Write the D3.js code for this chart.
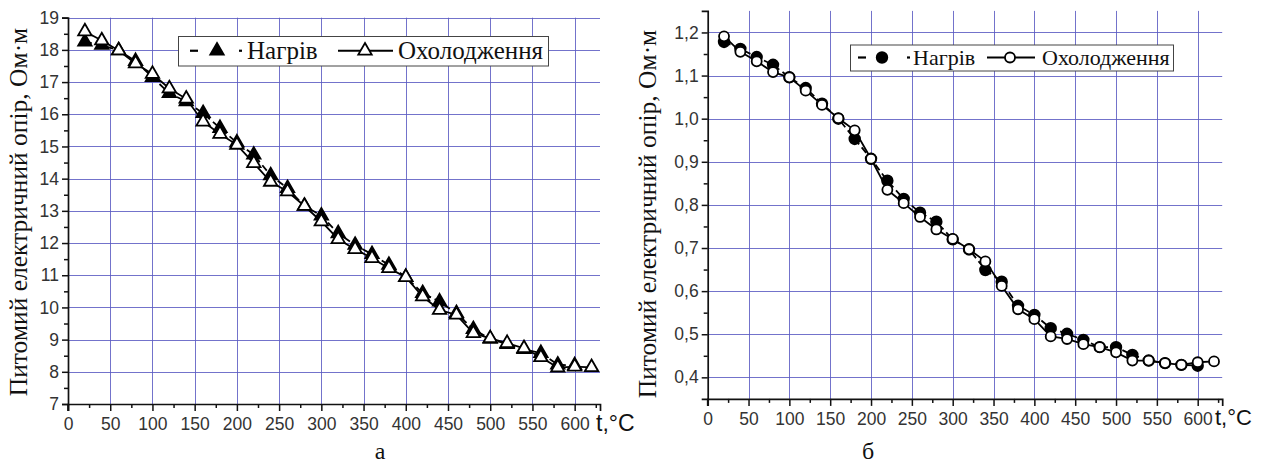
<!DOCTYPE html>
<html><head><meta charset="utf-8">
<script src="https://cdn.jsdelivr.net/npm/d3@7"></script>
<style>body{margin:0;background:#fff}svg{display:block}</style>
</head><body>
<svg id="c" width="1261" height="465"></svg>
<script>
// ---- data ----
const tempHeat = [20,40,60,80,100,120,140,160,180,200,220,240,260,280,300,320,340,360,380,400,420,440,460,480,500,520,540,560,580,600];
const tempCool = [20,40,60,80,100,120,140,160,180,200,220,240,260,280,300,320,340,360,380,400,420,440,460,480,500,520,540,560,580,600,620];
const rhoA_heat = [18.25,18.15,17.98,17.65,17.15,16.65,16.4,16.03,15.57,15.12,14.74,14.1,13.7,13.15,12.85,12.3,11.94,11.65,11.32,10.94,10.44,10.18,9.82,9.32,9.02,8.86,8.7,8.58,8.22,8.2];
const rhoA_cool = [18.57,18.29,17.98,17.58,17.25,16.8,16.48,15.77,15.39,15.05,14.48,13.9,13.6,13.15,12.67,12.12,11.81,11.53,11.22,10.94,10.34,9.92,9.77,9.2,9.04,8.89,8.73,8.45,8.13,8.16,8.14];
const rhoB_heat = [1.178,1.162,1.143,1.125,1.096,1.071,1.035,1.0,0.953,0.907,0.856,0.814,0.782,0.761,0.72,0.697,0.649,0.622,0.566,0.545,0.514,0.501,0.487,0.47,0.47,0.452,0.439,0.433,0.429,0.427];
const rhoB_cool = [1.191,1.155,1.133,1.108,1.096,1.065,1.032,1.001,0.973,0.907,0.835,0.804,0.772,0.743,0.721,0.697,0.669,0.612,0.558,0.535,0.495,0.489,0.477,0.470,0.458,0.439,0.439,0.433,0.429,0.435,0.437];
const xTicks = [0,50,100,150,200,250,300,350,400,450,500,550,600];
const yTicksA = [7,8,9,10,11,12,13,14,15,16,17,18,19];
const yTicksB = [0.4,0.5,0.6,0.7,0.8,0.9,1.0,1.1,1.2];
const seriesNames = ["Нагрів","Охолодження"];
const yTitle = "Питомий електричний опір, Ом·м";
const xTitle = "t,°C";
const panelLabels = ["а","б"];

const svg = d3.select("#c");
const GRID = "#5a5ac2";
const fmtB = v => d3.format(".1f")(v).replace(".", ",");
const px = v => Math.round(v) + 0.5;

function panel(cfg){
  const g = svg.append("g");
  const x = d3.scaleLinear().domain([0,630]).range(cfg.xr);
  const y = d3.scaleLinear().domain(cfg.yd).range(cfg.yr);
  // grid
  g.append("g").selectAll("line").data(xTicks.slice(1)).join("line")
    .attr("x1",d=>px(x(d))).attr("x2",d=>px(x(d))).attr("y1",cfg.yr[0]).attr("y2",cfg.yr[1])
    .attr("stroke",GRID).attr("stroke-opacity",0.85).attr("stroke-width",1);
  g.append("g").selectAll("line").data(cfg.yTicks.filter(d=>d>cfg.yd[0]+1e-9)).join("line")
    .attr("x1",cfg.xr[0]).attr("x2",cfg.xr[1]).attr("y1",d=>px(y(d))).attr("y2",d=>px(y(d)))
    .attr("stroke",GRID).attr("stroke-opacity",0.85).attr("stroke-width",1);
  // axes
  const ax = g.append("g").attr("transform",`translate(0,${cfg.yr[0]})`)
    .call(d3.axisBottom(x).tickValues(xTicks).tickSize(7).tickPadding(7));
  const axm = g.append("g").attr("transform",`translate(0,${cfg.yr[0]})`)
    .call(d3.axisBottom(x).tickValues(d3.range(25,630,50)).tickSize(4).tickFormat(""));
  const ay = g.append("g").attr("transform",`translate(${cfg.xr[0]},0)`)
    .call(d3.axisLeft(y).tickValues(cfg.yTicks).tickSize(6).tickPadding(3).tickFormat(cfg.fmt));
  const aym = g.append("g").attr("transform",`translate(${cfg.xr[0]},0)`)
    .call(d3.axisLeft(y).tickValues(cfg.yMinor).tickSize(4).tickFormat(""));
  [ax,axm,ay,aym].forEach(a=>{
    a.select(".domain").attr("stroke","#111").attr("stroke-width",1.7);
    a.selectAll(".tick line").attr("stroke","#111").attr("stroke-width",1.5);
    a.selectAll("text").attr("font-family","Liberation Sans, Arial, sans-serif").attr("font-size",17.5).attr("fill","#333");
  });
  axm.select(".domain").remove(); aym.select(".domain").remove();
  g.append("line").attr("x1",cfg.xr[0]).attr("x2",cfg.xr[0]).attr("y1",cfg.yr[0]).attr("y2",cfg.yr[0]+7).attr("stroke","#111").attr("stroke-width",1.7);

  const line = d3.line().x(d=>x(d[0])).y(d=>y(d[1]));
  const heat = tempHeat.map((t,i)=>[t,cfg.heat[i]]);
  const cool = tempCool.map((t,i)=>[t,cfg.cool[i]]);
  g.append("path").datum(heat).attr("d",line).attr("fill","none").attr("stroke","#000").attr("stroke-width",1.8).attr("stroke-dasharray","7,4");
  const sym = d3.symbol().type(d3.symbolTriangle).size(78);
  const drawMark = (sel, filled) => {
    if (cfg.tri) {
      sel.append("path").attr("d",sym()).attr("fill",filled?"#000":"#fff").attr("stroke","#000").attr("stroke-width",1.8).attr("stroke-linejoin","miter");
    } else {
      sel.append("circle").attr("r",filled?5.3:5).attr("fill",filled?"#000":"#fff").attr("stroke","#000").attr("stroke-width",1.8);
    }
  };
  g.append("g").selectAll("g").data(heat).join("g").attr("transform",d=>`translate(${x(d[0])},${y(d[1])})`).each(function(){drawMark(d3.select(this),true);});
  g.append("path").datum(cool).attr("d",line).attr("fill","none").attr("stroke","#000").attr("stroke-width",1.8);
  g.append("g").selectAll("g").data(cool).join("g").attr("transform",d=>`translate(${x(d[0])},${y(d[1])})`).each(function(){drawMark(d3.select(this),false);});

  // legend
  const L = cfg.leg;
  g.append("rect").attr("x",L.x+0.5).attr("y",L.y+0.5).attr("width",L.w).attr("height",L.h).attr("fill","#fff").attr("stroke","#444").attr("stroke-width",1);
  const my = L.y + L.h/2;
  g.append("line").attr("x1",L.s1[0]).attr("x2",L.s1[0]+8).attr("y1",my).attr("y2",my).attr("stroke","#000").attr("stroke-width",2.2);
  g.append("line").attr("x1",L.s1[2]).attr("x2",L.s1[2]+3).attr("y1",my).attr("y2",my).attr("stroke","#000").attr("stroke-width",2.2);
  drawMark(g.append("g").attr("transform",`translate(${L.s1[1]},${my})`), true);
  g.append("text").attr("x",L.t1).attr("y",L.base).text(seriesNames[0]).attr("font-family","Liberation Serif, Times New Roman, serif").attr("font-size",L.fs).attr("fill","#111");
  g.append("line").attr("x1",L.s2[0]).attr("x2",L.s2[2]).attr("y1",my).attr("y2",my).attr("stroke","#000").attr("stroke-width",1.8);
  drawMark(g.append("g").attr("transform",`translate(${L.s2[1]},${my})`), false);
  g.append("text").attr("x",L.t2).attr("y",L.base).text(seriesNames[1]).attr("font-family","Liberation Serif, Times New Roman, serif").attr("font-size",L.fs).attr("fill","#111");

  // titles
  g.append("text").attr("transform",`translate(${cfg.ytx},${cfg.yty}) rotate(-90)`).attr("text-anchor","middle")
    .attr("font-family","Liberation Serif, Times New Roman, serif").attr("font-size",cfg.yfs).attr("fill","#111").text(yTitle);
  g.append("text").attr("x",cfg.xtx).attr("y",cfg.xty).attr("font-family","Liberation Sans, Arial, sans-serif").attr("font-size",cfg.xfs).attr("fill","#111").text(xTitle);
  g.append("text").attr("x",cfg.plx).attr("y",cfg.ply).attr("text-anchor","middle").attr("font-family","Liberation Serif, Times New Roman, serif").attr("font-size",24).attr("fill","#111").text(cfg.pl);
}

panel({
  xr:[68,600], yd:[7,19], yr:[404,17.7], yTicks:yTicksA, yMinor:d3.range(7.5,19,1), fmt:d3.format("d"),
  heat:rhoA_heat, cool:rhoA_cool, tri:true,
  leg:{x:178,y:36,w:370,h:29.5,s1:[190,217,239],t1:247,s2:[338,365,393],t2:398,base:59,fs:25},
  ytx:27, yty:212, yfs:25.5, xtx:596, xty:431, xfs:23, plx:380, ply:459, pl:panelLabels[0]
});
panel({
  xr:[707.7,1222.2], yd:[0.35,1.25], yr:[398.9,10.9], yTicks:yTicksB, yMinor:d3.range(0.45,1.25,0.1), fmt:fmtB,
  heat:rhoB_heat, cool:rhoB_cool, tri:false,
  leg:{x:850,y:44.5,w:323,h:26,s1:[858,882,907],t1:913,s2:[987,1010,1035],t2:1042,base:65,fs:22},
  ytx:656, yty:214, yfs:25.5, xtx:1215, xty:425, xfs:22, plx:868, ply:459, pl:panelLabels[1]
});
</script>
</body></html>
